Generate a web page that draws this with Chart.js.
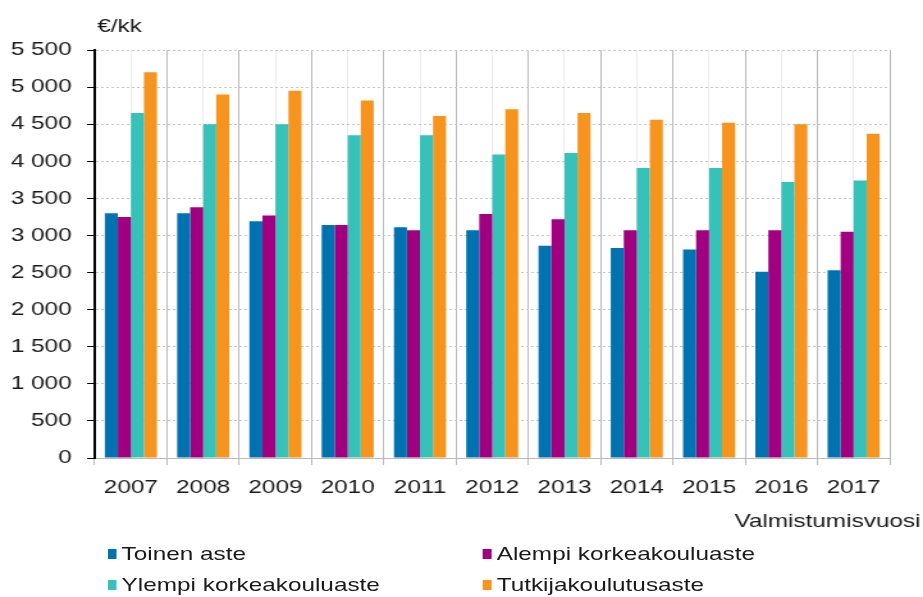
<!DOCTYPE html>
<html lang="fi">
<head>
    <meta charset="UTF-8">
    <title>Kuukausiansiot valmistumisvuoden mukaan</title>
    <script src="https://cdn.jsdelivr.net/npm/chart.js"></script>
    <style>
        html, body { margin: 0; padding: 0; background: #fff; overflow: hidden; }
        /* the reference is stretched sideways, so draw narrow and scale up */
        #wrap {
            position: relative;
            width: 721px;
            height: 597px;
            transform: scaleX(1.2802);
            transform-origin: 0 0;
        }
        #chartBox { position: absolute; left: 0; top: 0; width: 721px; height: 597px; }
        .legend-item {
            position: absolute;
            display: flex;
            align-items: center;
            white-space: nowrap;
            transform: translateY(-50%);
            font-family: 'Liberation Sans', Arial, sans-serif;
            font-size: 19px;
            color: #1a1a1a;
        }
        .legend-item .box { display: inline-block; width: 7px; height: 10px; margin-right: 4px; }
    </style>
</head>
<body>
    <div id="wrap">
        <div id="chartBox"><canvas id="salaryChart"></canvas></div>
        <div id="legend"></div>
    </div>

    <script>
        const years = ['2007', '2008', '2009', '2010', '2011', '2012', '2013', '2014', '2015', '2016', '2017'];
        const toinenAste = [3300, 3300, 3190, 3140, 3110, 3070, 2860, 2830, 2810, 2510, 2530];
        const alempiKorkea = [3250, 3380, 3270, 3140, 3070, 3290, 3220, 3070, 3070, 3070, 3050];
        const ylempiKorkea = [4650, 4500, 4500, 4350, 4350, 4090, 4110, 3910, 3910, 3720, 3740];
        const tutkija = [5200, 4900, 4950, 4820, 4610, 4700, 4650, 4560, 4520, 4500, 4370];

        const seriesNames = ['Toinen aste', 'Alempi korkeakouluaste', 'Ylempi korkeakouluaste', 'Tutkijakoulutusaste'];
        const seriesColors = ['#0072b0', '#a0007f', '#36c1b9', '#f7941e'];
        const unitLabel = '€/kk';
        const xTitle = 'Valmistumisvuosi';

        const font = { family: "'Liberation Sans', Arial, sans-serif", size: 19 };
        const textColor = '#1a1a1a';

        function spaced(v) {
            return String(v).replace(/\B(?=(\d{3})+(?!\d))/g, ' ');
        }

        // unit label above the y axis and the x axis title at the right
        const extraText = {
            id: 'extraText',
            afterDraw(chart) {
                const ctx = chart.ctx;
                const area = chart.chartArea;
                ctx.save();
                ctx.font = font.size + 'px ' + font.family;
                ctx.fillStyle = textColor;
                ctx.textBaseline = 'middle';
                ctx.textAlign = 'left';
                ctx.fillText(unitLabel, area.left + 2, 27);
                ctx.textAlign = 'right';
                ctx.fillText(xTitle, chart.width - 2, 522);
                ctx.restore();
            }
        };

        const values = [toinenAste, alempiKorkea, ylempiKorkea, tutkija];
        const datasets = values.map((d, i) => ({
            label: seriesNames[i],
            data: d,
            backgroundColor: seriesColors[i],
            borderWidth: 0,
            categoryPercentage: 0.72,
            barPercentage: 1.0
        }));

        const ctx = document.getElementById('salaryChart').getContext('2d');
        const chart = new Chart(ctx, {
            type: 'bar',
            data: { labels: years, datasets: datasets },
            plugins: [extraText],
            options: {
                responsive: true,
                maintainAspectRatio: false,
                animation: false,
                layout: { padding: { left: 0, top: 50, right: 26, bottom: 89 } },
                plugins: {
                    legend: { display: false },
                    tooltip: { enabled: false }
                },
                scales: {
                    x: {
                        offset: true,
                        afterFit: s => { s.height = 50; },
                        grid: {
                            offset: true,
                            color: '#b9b9b9',
                            tickLength: 7
                        },
                        border: { color: '#b9b9b9', width: 1 },
                        ticks: { font: font, color: textColor, padding: 11, maxRotation: 0 }
                    },
                    x2: {
                        type: 'category',
                        position: 'top',
                        offset: true,
                        afterFit: s => { s.height = 0; },
                        grid: { offset: false, color: '#ececec', drawTicks: false },
                        border: { display: false },
                        ticks: { display: false }
                    },
                    y: {
                        min: 0,
                        max: 5500,
                        afterFit: s => { s.width = 74; },
                        grid: {
                            color: '#c6c6c6',
                            tickColor: '#000',
                            tickLength: 6
                        },
                        border: { color: '#000', width: 2, dash: [2, 2] },
                        ticks: {
                            stepSize: 500,
                            font: font,
                            color: textColor,
                            padding: 12,
                            callback: v => spaced(v)
                        }
                    }
                }
            }
        });

        // legend in two columns, built from the chart's datasets
        const legendPos = [[84, 554], [377, 554], [84, 585], [377, 585]];
        const legend = document.getElementById('legend');
        chart.data.datasets.forEach((ds, i) => {
            const item = document.createElement('div');
            item.className = 'legend-item';
            item.style.left = legendPos[i][0] + 'px';
            item.style.top = legendPos[i][1] + 'px';
            const box = document.createElement('span');
            box.className = 'box';
            box.style.background = ds.backgroundColor;
            item.appendChild(box);
            item.appendChild(document.createTextNode(ds.label));
            legend.appendChild(item);
        });
    </script>
</body>
</html>
